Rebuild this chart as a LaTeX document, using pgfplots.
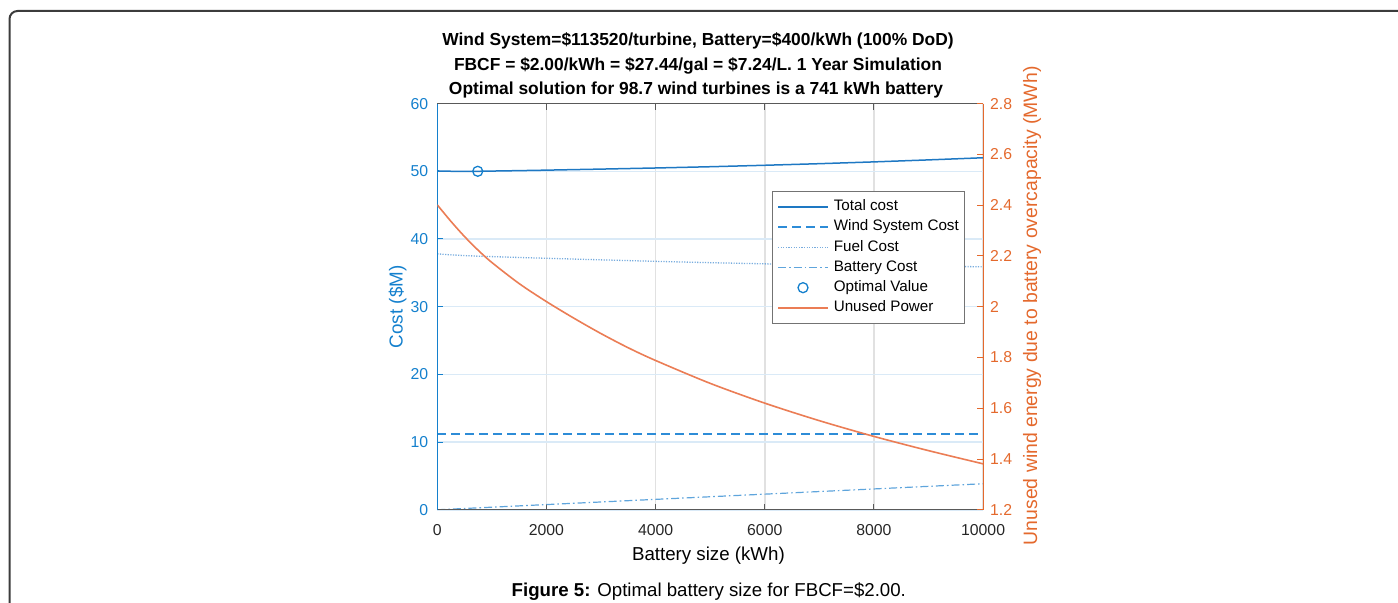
\documentclass[border=0pt]{standalone}
\usepackage{fontspec}
\setmainfont{Liberation Sans}
\usepackage{pgfplots}
\pgfplotsset{compat=1.18}
\definecolor{axblue}{RGB}{20,128,205}
\definecolor{lnblue}{RGB}{30,120,195}
\definecolor{dashblue}{RGB}{45,140,215}
\definecolor{dotblue}{RGB}{120,172,222}
\definecolor{ddblue}{RGB}{95,165,220}
\definecolor{lnorange}{RGB}{235,125,85}
\definecolor{axorange}{RGB}{228,105,45}
\definecolor{gridgray}{RGB}{225,225,225}
\definecolor{gridblue}{RGB}{218,234,247}
\definecolor{framegray}{RGB}{60,60,60}
\pgfplotsset{
  mylegline/.style={legend image code/.code={\draw[##1] (0pt,0pt) -- (25pt,0pt);}},
  mylegmark/.style={legend image code/.code={\draw[mark repeat=2,mark phase=2,##1] plot coordinates {(0pt,0pt) (12.5pt,0pt) (25pt,0pt)};}},
  totalstyle/.style={lnblue, line width=0.75pt},
  windstyle/.style={dashblue, line width=0.7pt, dash pattern=on 4.5pt off 2.5pt},
  fuelstyle/.style={dotblue, line width=0.65pt, dash pattern=on 0.6pt off 0.7pt},
  battstyle/.style={ddblue, line width=0.6pt, dash pattern=on 4pt off 1.5pt on 0.8pt off 1.5pt},
  optstyle/.style={only marks, mark=o, mark size=2.5pt, axblue, line width=0.65pt, mark options={solid}},
  unusedstyle/.style={lnorange, line width=0.8pt},
}
\begin{document}
\begin{tikzpicture}
\useasboundingbox (0pt,0pt) rectangle (699pt,301.5pt);
\draw[framegray, line width=1pt, rounded corners=4pt] (4.75pt,-3pt) -- (4.75pt,296pt) -- (710pt,296pt);

\begin{axis}[
  at={(218.65pt,46.6pt)}, anchor=south west,
  scale only axis, width=272.9pt, height=203.1pt,
  xmin=0, xmax=10000, ymin=0, ymax=60,
  xtick={0,2000,4000,6000,8000,10000}, ytick={0,10,20,30,40,50,60},
  scaled x ticks=false,
  /pgf/number format/1000 sep={},
  /pgf/number format/assume math mode=true,
  ytick pos=left, xtick pos=both, xticklabel pos=lower,
  tick align=inside,
  major tick length=3pt,
  xtick style={draw=black!65, line width=0.5pt},
  ytick style={draw=axblue, line width=0.5pt},
  xmajorgrids, ymajorgrids,
  x grid style={gridgray, line width=0.8pt},
  y grid style={gridblue, line width=0.8pt},
  axis line style={draw=none},
  clip mode=individual,
  ticklabel style={font=\fontsize{7.9}{9}\selectfont},
  xticklabel style={black!85, yshift=-4pt},
  yticklabel style={axblue, xshift=-1pt},
]
\addplot[fuelstyle] coordinates {
(0,37.80) (250,37.66) (500,37.55) (741,37.465) (1000,37.40) (1500,37.27) (2000,37.15)
(3000,36.92) (4000,36.70) (5000,36.50) (6000,36.33) (7000,36.18) (8000,36.06) (9000,35.97) (10000,35.90)};
\addplot[battstyle] coordinates {
(0,0) (1000,0.385) (2000,0.77) (3000,1.155) (4000,1.54) (5000,1.925) (6000,2.31)
(7000,2.695) (8000,3.08) (9000,3.465) (10000,3.85)};
\addplot[windstyle] coordinates {(0,11.2) (10000,11.2)};
\addplot[totalstyle] coordinates {
(0,50.05) (250,50.006) (500,49.993) (741,50.0) (1000,50.035) (1500,50.098) (2000,50.17)
(3000,50.325) (4000,50.49) (5000,50.675) (6000,50.89) (7000,51.125) (8000,51.39) (9000,51.685) (10000,52.0)};
\addplot[optstyle] coordinates {(741,50.0)};
\draw[black!65, line width=0.6pt] (rel axis cs:0,0) -- (rel axis cs:1,0);
\draw[black!65, line width=0.6pt] (rel axis cs:0,1) -- (rel axis cs:1,1);
\draw[axblue, line width=0.6pt] (rel axis cs:0,0) -- (rel axis cs:0,1);
\end{axis}

\begin{axis}[
  at={(218.65pt,46.6pt)}, anchor=south west,
  scale only axis, width=272.9pt, height=203.1pt,
  xmin=0, xmax=10000, ymin=1.2, ymax=2.8,
  hide x axis,
  ytick={1.2,1.4,1.6,1.8,2,2.2,2.4,2.6,2.8},
  ytick pos=right, tick align=inside, major tick length=3pt,
  ytick style={draw=axorange, line width=0.5pt},
  /pgf/number format/assume math mode=true,
  yticklabel style={axorange, font=\fontsize{7.9}{9}\selectfont},
  axis line style={draw=none},
  clip mode=individual,
  mylegline,
  legend cell align=left,
  legend style={at={(rel axis cs:0.6138,0.7856)}, anchor=north west,
    draw=black!55, line width=0.5pt, fill=white,
    font=\fontsize{7.6}{9}\selectfont,
    inner xsep=2.2pt, inner ysep=2.8pt, row sep=0pt, column sep=1.9pt,
    nodes={inner sep=0.6pt, text height=6.4pt, text depth=2.5pt}},
]
\addlegendimage{totalstyle}
\addlegendentry{Total cost}
\addlegendimage{windstyle}
\addlegendentry{Wind System Cost}
\addlegendimage{fuelstyle}
\addlegendentry{Fuel Cost}
\addlegendimage{battstyle}
\addlegendentry{Battery Cost}
\addlegendimage{optstyle, mylegmark}
\addlegendentry{Optimal Value}
\addplot[unusedstyle, smooth] coordinates {
(0,2.401) (250,2.336) (500,2.276) (750,2.222) (1000,2.174) (1500,2.091) (2000,2.020)
(2500,1.955) (3000,1.894) (3500,1.838) (4000,1.788) (5000,1.698)
(6000,1.620) (7000,1.551) (8000,1.489) (9000,1.433) (10000,1.381)};
\addlegendentry{Unused Power}
\draw[axorange, line width=0.6pt] (rel axis cs:1,0) -- (rel axis cs:1,1);
\end{axis}

\node[anchor=base, font=\fontsize{8.7}{10}\selectfont\bfseries] at (349pt,278.5pt) {Wind System=\$113520/turbine, Battery=\$400/kWh (100\% DoD)};
\node[anchor=base, font=\fontsize{8.7}{10}\selectfont\bfseries] at (349pt,266.2pt) {FBCF = \$2.00/kWh = \$27.44/gal = \$7.24/L. 1 Year Simulation};
\node[anchor=base, font=\fontsize{8.7}{10}\selectfont\bfseries] at (348pt,254pt) {Optimal solution for 98.7 wind turbines is a 741 kWh battery};

\node[anchor=base, font=\fontsize{9.35}{11}\selectfont] at (354.2pt,21pt) {Battery size (kWh)};
\node[rotate=90, font=\fontsize{9.4}{11}\selectfont, text=axblue] at (198.75pt,148.1pt) {Cost (\$M)};
\node[rotate=90, font=\fontsize{9.7}{11}\selectfont, text=axorange] at (516pt,148.6pt) {Unused wind energy due to battery overcapacity (MWh)};

\node[anchor=base, font=\fontsize{9.33}{11}\selectfont] at (354.4pt,3.4pt) {\textbf{Figure 5:} Optimal battery size for FBCF=\$2.00.};
\end{tikzpicture}
\end{document}
